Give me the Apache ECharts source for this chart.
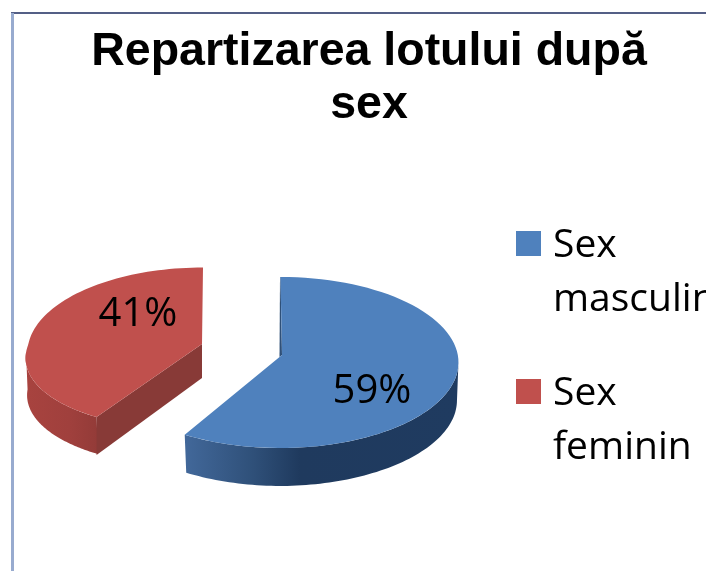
<!DOCTYPE html>
<html><head><meta charset="utf-8">
<style>html,body{margin:0;padding:0;background:#fff}#c{width:706px;height:571px}</style>
<script src="https://cdn.jsdelivr.net/npm/echarts@6/dist/echarts.min.js"></script>
</head><body><div id="c"></div>
<script>
var titleLines = ['Repartizarea lotului după', 'sex'];
var categories = ['Sex\nmasculin', 'Sex\nfeminin'];
var values = [59, 41];
var valueLabels = ['59%', '41%'];
var topColors = ['#4f81bd', '#c0504d'];
var cutColors = ['#2f5078', '#883a37'];
var wallStops = [
  [[0, '#42689a'], [0.25, '#2f5079'], [0.42, '#1f3a5e'], [1, '#1f3b60']],
  [[0, '#a8433f'], [0.6, '#a0403d'], [1, '#933b38']]
];
// placement of each exploded slice (layout only)
var slices = [
  {ax: 282, ay: 355, cx: 280.5, cy: 362.5, rx: 178, rTop: 85.5, rBot: 85.5, shear: -0.005, wallTo: 90, lx: 372, ly: 391.5, depth: 38},
  {ax: 202, ay: 344, cx: 203, cy: 352.5, rx: 175.5, rTop: 85, rBot: 76.5, shear: -0.17, wallTo: 270, lx: 138, ly: 315, depth: 37}
];
var total = values.reduce(function (a, b) { return a + b; }, 0);

function sliceRender(i) {
  return function () {
    var s = slices[i], before = 0;
    for (var k = 0; k < i; k++) before += values[k];
    var a0 = before / total * 360, a1 = (before + values[i]) / total * 360;
    function pt(deg, d) {
      var t = deg * Math.PI / 180, c = Math.cos(t);
      var y = s.cy - c * (c >= 0 ? s.rTop : s.rBot);
      var x = s.cx + s.rx * Math.sin(t) + (y > s.ay ? s.shear * (y - s.ay) : 0);
      if (d) { x += (x > s.cx ? -1.5 : 1.5); }
      return [x, y + d];
    }
    function arc(from, to, d) {
      var out = [], n = 80;
      for (var j = 0; j <= n; j++) out.push(pt(from + (to - from) * j / n, d));
      return out;
    }
    var top = [[s.ax, s.ay]].concat(arc(a0, a1, 0));
    var children = [];
    var wFrom = i === 0 ? s.wallTo : a0, wTo = i === 0 ? a1 : s.wallTo;
    var wall = arc(wFrom, wTo, 0).concat(arc(wFrom, wTo, s.depth).reverse());
    children.push({type: 'polygon', shape: {points: wall}, style: {
      fill: new echarts.graphic.LinearGradient(0, 0, 1, 0, wallStops[i].map(function (st) {
        return {offset: st[0], color: st[1]};
      }))
    }});
    if (i === 1) {
      var corner = pt(a0, 0);
      children.push({type: 'polygon', shape: {points: [[s.ax, s.ay], corner, [corner[0], corner[1] + s.depth + 1], [s.ax, s.ay + s.depth - 3]]},
        style: {fill: cutColors[i]}});
    } else {
      var t0 = pt(a0, 0);
      children.push({type: 'polygon', shape: {points: [t0, [s.ax, s.ay], [s.ax - 2.5, s.ay + 2], [t0[0] - 0.5, t0[1]]]},
        style: {fill: cutColors[i]}});
    }
    children.push({type: 'polygon', shape: {points: top}, style: {fill: topColors[i]}});
    children.push({type: 'text', style: {
      x: s.lx, y: s.ly, text: valueLabels[i], align: 'center', verticalAlign: 'middle',
      font: '40px "Open Sans", "Noto Sans", sans-serif', fill: '#000'
    }});
    return {type: 'group', children: children};
  };
}

var chart = echarts.init(document.getElementById('c'), null, {renderer: 'canvas'});
chart.setOption({
  animation: false,
  backgroundColor: '#fff',
  title: {
    text: titleLines.join('\n'), left: 364, top: 21, textAlign: 'center',
    textStyle: {fontFamily: '"Liberation Sans", Arial, sans-serif', fontWeight: 'bold', fontSize: 46.5, lineHeight: 53, color: '#000'}
  },
  legend: {
    orient: 'vertical', left: 516, top: 219, itemWidth: 25, itemHeight: 84, itemGap: 40,
    padding: 0,
    data: categories.map(function (c, i) {
      return {name: c, icon: 'path://M0 0H25V25H0ZM0 84H25V84H0Z', itemStyle: {color: topColors[i]}};
    }),
    textStyle: {fontFamily: '"Open Sans", "Noto Sans", sans-serif', fontSize: 39, lineHeight: 54, color: '#000', padding: [0, 0, 0, 7]},
    selectedMode: false
  },
  graphic: [
    {type: 'line', shape: {x1: 11, y1: 13, x2: 706, y2: 13}, style: {stroke: '#1b2a5e', lineWidth: 1.5}},
    {type: 'line', shape: {x1: 12.5, y1: 13, x2: 12.5, y2: 571}, style: {stroke: '#98abcf', lineWidth: 3}}
  ],
  series: categories.map(function (c, i) {
    return {type: 'custom', name: c, coordinateSystem: 'none', renderItem: sliceRender(i), data: [values[i]], itemStyle: {color: topColors[i]}, silent: true};
  })
});
</script></body></html>
